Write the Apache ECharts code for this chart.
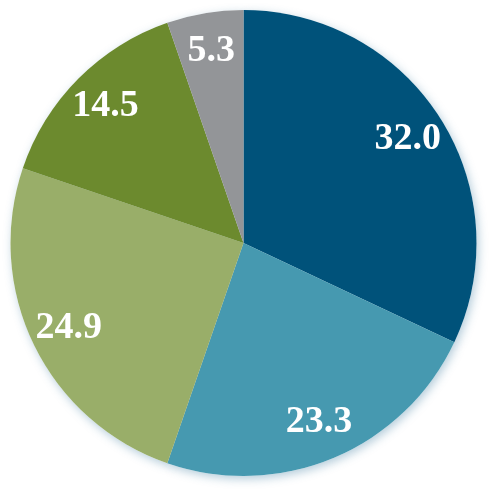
<!DOCTYPE html>
<html>
<head>
<meta charset="utf-8">
<style>html,body{margin:0;padding:0;background:#fff;}#c{width:503px;height:503px;}</style>
<script src="https://cdn.jsdelivr.net/npm/echarts@6/dist/echarts.min.js"></script>
</head>
<body>
<div id="c"></div>
<script>
const categories = ['A', 'B', 'C', 'D', 'E'];
const values = [32.0, 23.3, 24.9, 14.5, 5.3];
const colors = ['#00527a', '#4699b0', '#99ae69', '#6c8a2e', '#939598'];

const chart = echarts.init(document.getElementById('c'), null, {renderer: 'canvas'});
const data = categories.map((c, i) => ({name: c, value: values[i], itemStyle: {color: colors[i]}}));
const center = [243.5, 243];
chart.setOption({
  animation: false,
  series: [
    {
      type: 'pie', center: center, radius: 233, startAngle: 90, clockwise: true,
      silent: true, z: 1,
      data: data.map(d => ({name: d.name, value: d.value})),
      itemStyle: {color: '#ffffff', shadowBlur: 10, shadowColor: 'rgba(40,110,150,0.35)', shadowOffsetX: 2, shadowOffsetY: 3},
      label: {show: false}, labelLine: {show: false}
    },
    {
      type: 'pie', center: center, radius: 233, startAngle: 90, clockwise: true,
      silent: true, z: 2,
      data: data,
      itemStyle: {borderWidth: 0},
      label: {show: false}, labelLine: {show: false}
    },
    {
      type: 'pie', center: center, radius: [150, 233], startAngle: 90, clockwise: true,
      silent: true, z: 3,
      data: data.map(d => ({name: d.name, value: d.value})),
      itemStyle: {color: 'rgba(0,0,0,0)', borderWidth: 0},
      label: {
        show: true, position: 'inside',
        formatter: p => p.value.toFixed(1),
        color: '#ffffff', fontFamily: 'Liberation Serif', fontWeight: 'bold', fontSize: 38
      },
      labelLine: {show: false}
    }
  ]
});
</script>
</body>
</html>
